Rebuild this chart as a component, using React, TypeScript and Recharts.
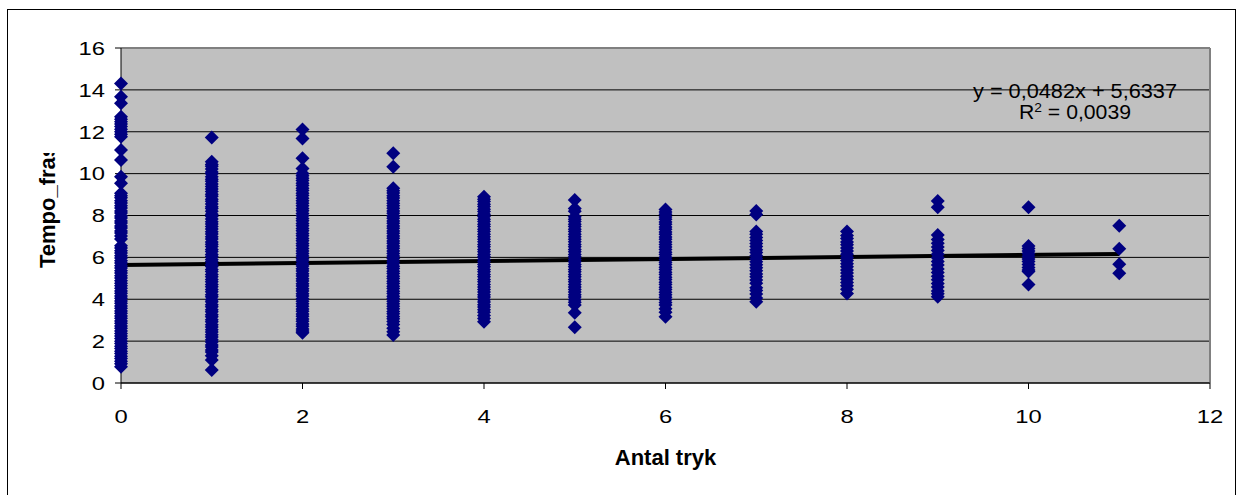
import React from 'react';
import { ScatterChart, Scatter, XAxis, YAxis, CartesianGrid, ReferenceLine, Label } from 'recharts';

// Tempo values per number of presses (index = Antal tryk)
const antal0 = [14.31, 13.67, 13.36, 12.72, 12.6, 12.48, 12.37, 12.25, 12.12, 12.0, 11.88, 11.76, 11.13, 10.65, 9.85, 9.54, 9.06, 8.94, 8.85, 8.71, 8.6, 8.46, 8.36, 8.22, 8.12, 7.98, 7.88, 7.74, 7.64, 7.5, 7.4, 7.26, 7.16, 7.02, 6.88, 6.55, 6.45, 6.32, 6.21, 6.08, 5.97, 5.84, 5.73, 5.6, 5.49, 5.36, 5.25, 5.12, 5.01, 4.88, 4.77, 4.64, 4.53, 4.4, 4.29, 4.16, 4.05, 3.92, 3.81, 3.68, 3.57, 3.44, 3.33, 3.2, 3.09, 2.96, 2.85, 2.72, 2.61, 2.48, 2.37, 2.24, 2.13, 2.0, 1.89, 1.76, 1.65, 1.52, 1.41, 1.28, 1.17, 1.04, 0.92, 0.78];
const antal1 = [11.72, 10.57, 10.44, 10.35, 10.22, 10.08, 9.99, 9.85, 9.73, 9.64, 9.5, 9.39, 9.26, 9.15, 9.02, 8.92, 8.78, 8.68, 8.55, 8.42, 8.33, 8.2, 8.06, 7.96, 7.83, 7.7, 7.6, 7.47, 7.36, 7.22, 7.12, 6.98, 6.88, 6.74, 6.63, 6.52, 6.38, 6.28, 6.14, 6.04, 5.9, 5.8, 5.66, 5.56, 5.42, 5.32, 5.18, 5.08, 4.94, 4.84, 4.7, 4.6, 4.46, 4.36, 4.22, 4.12, 3.98, 3.88, 3.74, 3.64, 3.5, 3.4, 3.26, 3.16, 3.02, 2.92, 2.78, 2.68, 2.54, 2.44, 2.3, 2.2, 2.06, 1.96, 1.82, 1.72, 1.58, 1.48, 1.3, 1.1, 0.62];
const antal2 = [12.11, 11.68, 10.73, 10.25, 10.01, 9.9, 9.78, 9.67, 9.54, 9.43, 9.3, 9.19, 9.06, 8.95, 8.82, 8.71, 8.58, 8.47, 8.34, 8.23, 8.1, 7.99, 7.86, 7.75, 7.62, 7.51, 7.38, 7.27, 7.14, 7.03, 6.9, 6.79, 6.66, 6.55, 6.42, 6.31, 6.18, 6.07, 5.94, 5.83, 5.7, 5.59, 5.46, 5.35, 5.22, 5.11, 4.98, 4.87, 4.74, 4.63, 4.5, 4.39, 4.26, 4.15, 4.02, 3.91, 3.78, 3.67, 3.54, 3.43, 3.3, 3.19, 3.06, 2.95, 2.82, 2.71, 2.58, 2.48, 2.4];
const antal3 = [10.97, 10.33, 9.3, 9.18, 9.07, 8.94, 8.83, 8.7, 8.59, 8.46, 8.35, 8.22, 8.11, 7.98, 7.87, 7.74, 7.63, 7.5, 7.39, 7.26, 7.15, 7.02, 6.91, 6.78, 6.67, 6.54, 6.43, 6.3, 6.19, 6.06, 5.95, 5.82, 5.71, 5.58, 5.47, 5.34, 5.23, 5.1, 4.99, 4.86, 4.75, 4.62, 4.51, 4.38, 4.27, 4.14, 4.03, 3.9, 3.79, 3.66, 3.55, 3.42, 3.31, 3.18, 3.07, 2.94, 2.8, 2.62, 2.45, 2.29];
const antal4 = [8.9, 8.78, 8.67, 8.54, 8.43, 8.3, 8.19, 8.06, 7.95, 7.82, 7.71, 7.58, 7.47, 7.34, 7.23, 7.1, 6.99, 6.86, 6.75, 6.62, 6.51, 6.38, 6.27, 6.14, 6.03, 5.9, 5.79, 5.66, 5.55, 5.42, 5.31, 5.18, 5.07, 4.94, 4.83, 4.7, 4.59, 4.46, 4.35, 4.22, 4.11, 3.98, 3.87, 3.74, 3.63, 3.5, 3.38, 3.22, 3.08, 2.93];
const antal5 = [8.74, 8.34, 8.2, 7.94, 7.82, 7.71, 7.58, 7.47, 7.34, 7.23, 7.1, 6.99, 6.86, 6.75, 6.62, 6.51, 6.38, 6.27, 6.14, 6.03, 5.9, 5.79, 5.66, 5.55, 5.42, 5.31, 5.18, 5.07, 4.94, 4.83, 4.7, 4.59, 4.46, 4.35, 4.22, 4.11, 3.98, 3.86, 3.72, 3.36, 2.66];
const antal6 = [8.29, 8.17, 8.06, 7.93, 7.82, 7.69, 7.58, 7.45, 7.34, 7.21, 7.1, 6.97, 6.86, 6.73, 6.62, 6.49, 6.38, 6.25, 6.14, 6.01, 5.9, 5.77, 5.66, 5.53, 5.42, 5.29, 5.18, 5.05, 4.94, 4.81, 4.7, 4.57, 4.46, 4.33, 4.22, 4.09, 3.98, 3.85, 3.72, 3.55, 3.38, 3.17];
const antal7 = [8.21, 8.05, 7.23, 7.1, 6.95, 6.81, 6.66, 6.52, 6.37, 6.23, 6.08, 5.94, 5.79, 5.65, 5.5, 5.36, 5.21, 5.07, 4.92, 4.76, 4.55, 4.42, 4.25, 4.06, 3.88];
const antal8 = [7.23, 7.05, 6.9, 6.74, 6.6, 6.45, 6.3, 6.15, 6.0, 5.85, 5.7, 5.55, 5.4, 5.25, 5.1, 4.95, 4.8, 4.65, 4.48, 4.28];
const antal9 = [8.69, 8.39, 7.07, 6.85, 6.68, 6.5, 6.33, 6.15, 5.98, 5.8, 5.63, 5.45, 5.28, 5.1, 4.93, 4.75, 4.58, 4.4, 4.26, 4.12];
const antal10 = [8.39, 6.54, 6.42, 6.3, 6.18, 6.05, 5.92, 5.8, 5.66, 5.52, 5.4, 5.32, 4.71];
const antal11 = [7.51, 6.41, 5.67, 5.24];

const columns = [antal0, antal1, antal2, antal3, antal4, antal5, antal6, antal7, antal8, antal9, antal10, antal11];

const xTicks = [0, 2, 4, 6, 8, 10, 12];
const yTicks = [0, 2, 4, 6, 8, 10, 12, 14, 16];

// linear trendline
const slope = 0.0482;
const intercept = 5.6337;
const rSquared = 0.0039;

const points = columns.flatMap((ys, x) => ys.map((y) => ({ x, y })));
const lastX = columns.length - 1;

const fmt = (n: number) => String(n).replace('.', ',');
const FONT = '"Liberation Sans", Arial, sans-serif';

const Diamond = (props: any) => {
  const { cx, cy } = props;
  const r = 7;
  return (
    <polygon
      points={`${cx},${cy - r} ${cx + r},${cy} ${cx},${cy + r} ${cx - r},${cy}`}
      fill="#000080"
    />
  );
};

// tick text is drawn a bit wide, like the old chart renderer did
const XTick = (props: any) => {
  const { x, y, payload } = props;
  return (
    <text transform={`translate(${x},${y}) scale(1.25,1)`} textAnchor="middle" dy="0.71em" fontSize={19} fontFamily={FONT} fill="#000">
      {payload.value}
    </text>
  );
};

const YTick = (props: any) => {
  const { x, y, payload } = props;
  return (
    <text transform={`translate(${x},${y}) scale(1.25,1)`} textAnchor="end" dy="0.355em" fontSize={19} fontFamily={FONT} fill="#000">
      {payload.value}
    </text>
  );
};

const YTitle = () => (
  <g clipPath="url(#ytitle-clip)">
    <defs>
      <clipPath id="ytitle-clip">
        <rect x={20} y={153} width={60} height={160} />
      </clipPath>
    </defs>
    <text
      x={55}
      y={268}
      transform="rotate(-90 55 268)"
      textAnchor="start"
      fontSize={22}
      fontWeight="bold"
      fontFamily={FONT}
      fill="#000"
    >
      Tempo_frase
    </text>
  </g>
);

const XTitle = (props: any) => {
  const { viewBox } = props;
  return (
    <text
      x={viewBox.x + viewBox.width / 2}
      y={465}
      textAnchor="middle"
      fontSize={22}
      fontWeight="bold"
      fontFamily={FONT}
      fill="#000"
    >
      Antal tryk
    </text>
  );
};

export default function App() {
  return (
    <div style={{ position: 'fixed', left: 0, top: 0, width: 1242, height: 495, background: '#fff', overflow: 'hidden' }}>
      <div style={{ position: 'absolute', left: 7, top: 9, width: 1227, height: 500, border: '1px solid #000' }} />
      <div style={{ position: 'absolute', left: 0, top: 0 }}>
        <ScatterChart width={1242} height={495} margin={{ top: 48, right: 32, left: 0, bottom: 0 }}>
          <CartesianGrid vertical={false} stroke="#000" fill="#C0C0C0" fillOpacity={1} horizontalValues={yTicks} />
          <XAxis
            type="number"
            dataKey="x"
            domain={[0, 12]}
            ticks={xTicks}
            height={112}
            tickSize={6}
            tickMargin={20}
            axisLine={{ stroke: '#000' }}
            tickLine={{ stroke: '#000' }}
            tick={XTick}
          >
            <Label content={XTitle} />
          </XAxis>
          <YAxis
            type="number"
            dataKey="y"
            domain={[0, 16]}
            ticks={yTicks}
            width={121}
            tickSize={6}
            tickMargin={10}
            axisLine={{ stroke: '#000' }}
            tickLine={{ stroke: '#000' }}
            tick={YTick}
          >
            <Label content={YTitle} />
          </YAxis>
          <ReferenceLine y={16} stroke="#808080" strokeWidth={2} />
          <ReferenceLine x={12} stroke="#808080" strokeWidth={2} />
          <Scatter data={points} shape={Diamond} isAnimationActive={false} />
          <ReferenceLine
            segment={[
              { x: 0, y: intercept },
              { x: lastX, y: intercept + slope * lastX },
            ]}
            stroke="#000"
            strokeWidth={4}
          />
          <text x={1075} y={98} textAnchor="middle" fontSize={20} fontFamily={FONT} fill="#000" textLength={204} lengthAdjust="spacingAndGlyphs">
            {`y = ${fmt(slope)}x + ${fmt(intercept)}`}
          </text>
          <text x={1075} y={119} textAnchor="middle" fontSize={20} fontFamily={FONT} fill="#000" textLength={112} lengthAdjust="spacingAndGlyphs">
            R<tspan fontSize={13} dy={-7}>2</tspan>
            <tspan dy={7}>{` = ${fmt(rSquared)}`}</tspan>
          </text>
        </ScatterChart>
      </div>
    </div>
  );
}
